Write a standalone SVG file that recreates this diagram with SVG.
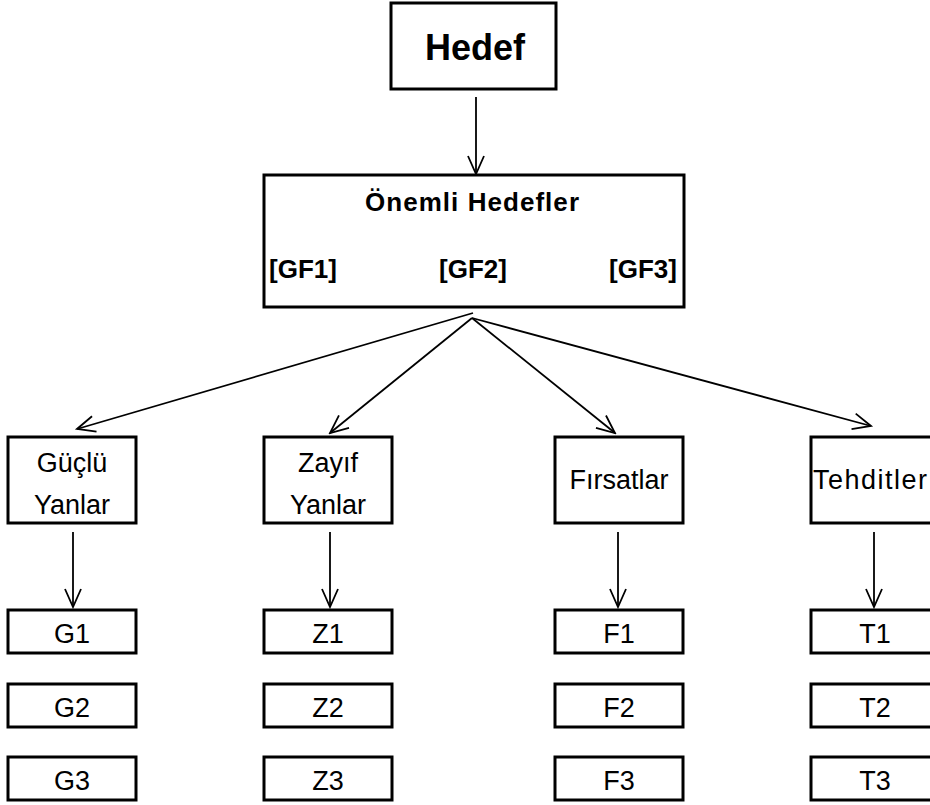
<svg xmlns="http://www.w3.org/2000/svg" width="930" height="805" viewBox="0 0 930 805">
<style>
.box{fill:#fff;stroke:#000;stroke-width:3}
.t{font-family:"Liberation Sans",Arial,sans-serif;fill:#000;text-anchor:middle}
.b{font-weight:bold}
.r{font-size:27px}
.c{fill:none;stroke:#000;stroke-width:1.8;marker-end:url(#ah)}
</style>
<defs>
<marker id="ah" markerUnits="userSpaceOnUse" markerWidth="24" markerHeight="24" viewBox="-22 -12 24 24" refX="0" refY="0" orient="auto">
<path d="M-18,-8 L0,0 L-18,8" fill="none" stroke="#000" stroke-width="1.8"/>
</marker>
</defs>
<rect width="930" height="805" fill="#fff"/>
<g id="connectors">
<line class="c" x1="476" y1="97" x2="476" y2="174"/>
<line class="c" x1="473" y1="313" x2="77" y2="429"/>
<line class="c" x1="472" y1="318" x2="330" y2="433"/>
<line class="c" x1="472" y1="318" x2="615" y2="433"/>
<line class="c" x1="472" y1="318" x2="871" y2="426"/>
<line class="c" x1="73" y1="532" x2="73" y2="607"/>
<line class="c" x1="330" y1="532" x2="330" y2="607"/>
<line class="c" x1="618" y1="532" x2="618" y2="607"/>
<line class="c" x1="874" y1="532" x2="874" y2="607"/>
</g>
<g id="hedef">
<rect class="box" x="391" y="3" width="165" height="86"/>
<text class="t b" x="475" y="60" font-size="36">Hedef</text>
</g>
<g id="onemli">
<rect class="box" x="264" y="175" width="420" height="132"/>
<text class="t b" x="472" y="211" font-size="26" textLength="214" lengthAdjust="spacing">Önemli Hedefler</text>
<text class="t b" x="303" y="278" font-size="26">[GF1]</text>
<text class="t b" x="473" y="278" font-size="26">[GF2]</text>
<text class="t b" x="643" y="278" font-size="26">[GF3]</text>
</g>
<g id="guclu">
<rect class="box" x="8" y="437" width="128" height="86"/>
<text class="t r" x="72" y="472">Güçlü</text>
<text class="t r" x="72" y="514">Yanlar</text>
</g>
<g id="zayif">
<rect class="box" x="264" y="437" width="128" height="86"/>
<text class="t r" x="328" y="472">Zayıf</text>
<text class="t r" x="328" y="514">Yanlar</text>
</g>
<g id="firsatlar">
<rect class="box" x="555" y="437" width="128" height="86"/>
<text class="t r" x="619" y="489">Fırsatlar</text>
</g>
<g id="tehditler">
<rect class="box" x="811" y="437" width="128" height="86"/>
<text class="t r" x="813" y="489" style="text-anchor:start" textLength="114" lengthAdjust="spacing">Tehditler</text>
</g>
<g id="g1"><rect class="box" x="8" y="610" width="128" height="43"/><text class="t r" x="72" y="643">G1</text></g>
<g id="g2"><rect class="box" x="8" y="684" width="128" height="43"/><text class="t r" x="72" y="717">G2</text></g>
<g id="g3"><rect class="box" x="8" y="757" width="128" height="43"/><text class="t r" x="72" y="790">G3</text></g>
<g id="z1"><rect class="box" x="264" y="610" width="128" height="43"/><text class="t r" x="328" y="643">Z1</text></g>
<g id="z2"><rect class="box" x="264" y="684" width="128" height="43"/><text class="t r" x="328" y="717">Z2</text></g>
<g id="z3"><rect class="box" x="264" y="757" width="128" height="43"/><text class="t r" x="328" y="790">Z3</text></g>
<g id="f1"><rect class="box" x="555" y="610" width="128" height="43"/><text class="t r" x="619" y="643">F1</text></g>
<g id="f2"><rect class="box" x="555" y="684" width="128" height="43"/><text class="t r" x="619" y="717">F2</text></g>
<g id="f3"><rect class="box" x="555" y="757" width="128" height="43"/><text class="t r" x="619" y="790">F3</text></g>
<g id="t1"><rect class="box" x="811" y="610" width="128" height="43"/><text class="t r" x="875" y="643">T1</text></g>
<g id="t2"><rect class="box" x="811" y="684" width="128" height="43"/><text class="t r" x="875" y="717">T2</text></g>
<g id="t3"><rect class="box" x="811" y="757" width="128" height="43"/><text class="t r" x="875" y="790">T3</text></g>
</svg>
